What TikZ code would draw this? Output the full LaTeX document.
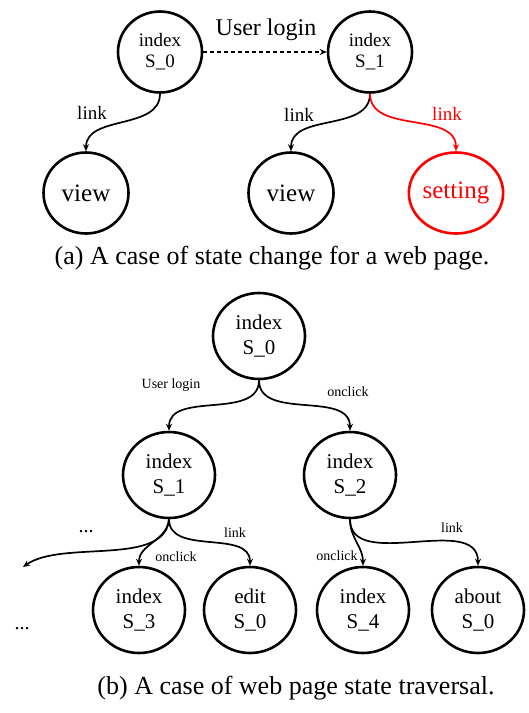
\documentclass[tikz,border=0pt]{standalone}
\usepackage{fontspec}
\setmainfont{Liberation Serif}
\usetikzlibrary{arrows.meta,shapes.geometric}
\begin{document}
\begin{tikzpicture}[x=1pt,y=-1pt,
  st/.style={draw,ellipse,line width=2.6pt,inner sep=0pt,align=center},
  sttop/.style={st,minimum width=84pt,minimum height=81pt,font=\fontsize{19}{21}\selectfont},
  stbig/.style={st,minimum width=85pt,minimum height=81pt,font=\fontsize{25}{28}\selectfont},
  stbot/.style={st,minimum width=92pt,minimum height=86pt,font=\fontsize{21}{25}\selectfont},
  arr/.style={line width=1.7pt,-{Stealth[length=7pt,width=6pt]}},
  lbltop/.style={font=\fontsize{19}{21}\selectfont,inner sep=0pt},
  lblbot/.style={font=\fontsize{14}{16}\selectfont,inner sep=0pt},
  captext/.style={font=\fontsize{26}{28}\selectfont,inner sep=0pt}]
\useasboundingbox (0,0) rectangle (529,713);
% ---------- (a) ----------
\node[sttop] (a0) at (160,52) {index\\S\_0};
\node[sttop] (a1) at (370,52) {index\\S\_1};
\node[stbig] (av1) at (86,193) {view};
\node[stbig] (av2) at (291,193) {view};
\node[stbig,draw=red,text=red] (aset) at (456,193) {setting};
\draw[arr,dashed,dash pattern=on 4pt off 3pt,line width=1.3pt] (a0.east) -- (a1.west);
\node[font=\fontsize{24}{26}\selectfont,inner sep=0pt] (alogin) at (266,30) {User login};
\draw[arr] (a0.south) to[out=-90,in=90] (av1.north);
\draw[arr] (a1.south) to[out=-90,in=90] (av2.north);
\draw[arr,red] (a1.south) to[out=-90,in=90] (aset.north);
\node[lbltop] (al1) at (92,113) {link};
\node[lbltop] (al2) at (299,115) {link};
\node[lbltop,text=red] (al3) at (447,114) {link};
\node[captext] (capa) at (272,258) {(a) A case of state change for a web page.};
% ---------- (b) ----------
\node[stbot] (b0) at (259,336) {index\\S\_0};
\node[stbot] (b1) at (169,475) {index\\S\_1};
\node[stbot] (b2) at (350,475) {index\\S\_2};
\node[stbot] (b3) at (139,610) {index\\S\_3};
\node[stbot] (be) at (250,610) {edit\\S\_0};
\node[stbot] (b4) at (363,610) {index\\S\_4};
\node[stbot] (ba) at (478,610) {about\\S\_0};
\coordinate (bleft) at (23,567);
\draw[arr] (b0.south) to[out=-90,in=90] (b1.north);
\draw[arr] (b0.south) to[out=-90,in=90] (b2.north);
\draw[arr] (b1.south) to[out=-95,in=35,looseness=0.8] (bleft);
\draw[arr] (b1.south) to[out=-95,in=90] (b3.north);
\draw[arr] (b1.south) to[out=-90,in=90] (be.north);
\draw[arr] (b2.south) to[out=-90,in=90] (b4.north);
\draw[arr] (b2.south) to[out=-90,in=90] (ba.north);
\node[lblbot] (bl1) at (171,385) {User login};
\node[lblbot] (bl2) at (348,392) {onclick};
\node[lblbot] (bl3) at (176,557) {onclick};
\node[lblbot] (bl4) at (235,533) {link};
\node[lblbot] (bl5) at (337,556) {onclick};
\node[lblbot] (bl6) at (452,528) {link};
\node[font=\fontsize{20}{22}\selectfont,inner sep=0pt,anchor=base] (dots1) at (86,532) {...};
\node[font=\fontsize{20}{22}\selectfont,inner sep=0pt,anchor=base] (dots2) at (22,629) {...};
\node[captext] (capb) at (296,688) {(b) A case of web page state traversal.};
\end{tikzpicture}
\end{document}
